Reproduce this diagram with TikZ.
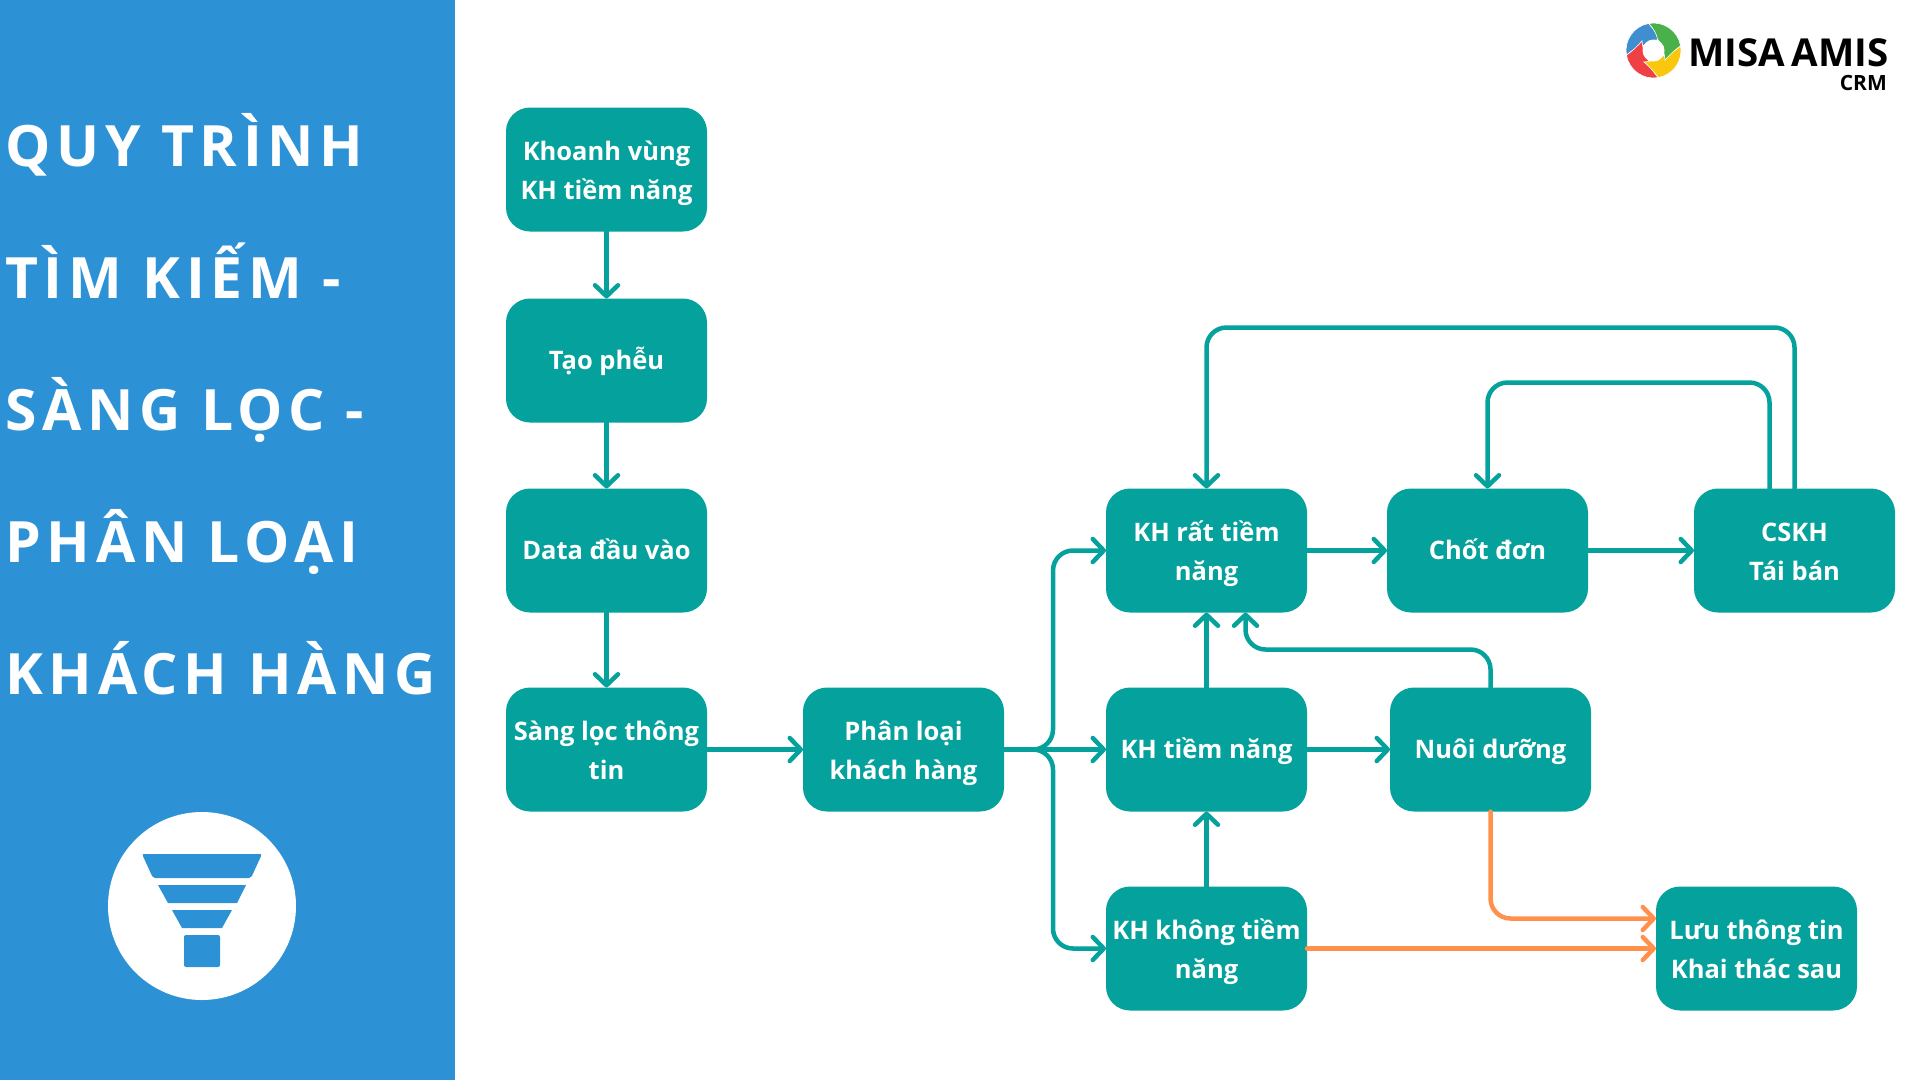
\documentclass[tikz,border=0pt]{standalone}
\usepackage{fontspec}
\setmainfont{Open Sans}
\newfontfamily\titlefont[LetterSpace=10]{Open Sans}
\usetikzlibrary{positioning, arrows.meta}

\definecolor{panelBlue}{HTML}{2D91D6}
\definecolor{boxTeal}{HTML}{05A19C}
\definecolor{lineOrange}{HTML}{FF914D}
\definecolor{logoBlue}{HTML}{3F8FD0}
\definecolor{logoGreen}{HTML}{49B04A}
\definecolor{logoYellow}{HTML}{F9C80E}
\definecolor{logoRed}{HTML}{EF4044}

% Two lines of text, with fixed room above and below
\newcommand{\twoText}[2]{\rule{0pt}{28pt}#1\\#2\rule[-6.2pt]{0pt}{6.2pt}}

\tikzset{
    x=1pt, y=-1pt,
    boxNode/.style={fill=boxTeal, text=white, rounded corners=24pt, minimum width=201pt, minimum height=124pt,
        inner sep=0pt, outer sep=0pt, align=center, font=\fontsize{25.5}{39}\selectfont\bfseries},
    oneLine/.style={boxNode, execute at begin node=\rule[-12pt]{0pt}{42pt}},
    flowArrow/.style={draw=boxTeal, line width=4.5pt, rounded corners=20pt, line cap=round,
        -{Straight Barb[round, length=11pt, width=23pt]}},
    orangeArrow/.style={flowArrow, draw=lineOrange},
    titleLine/.style={anchor=base west, text=white, inner sep=0pt, font=\fontsize{57}{60}\selectfont\titlefont\bfseries},
}

\begin{document}
\begin{tikzpicture}
        \useasboundingbox (0,0) rectangle (1920,1080);

        %%% Left panel
            \fill[panelBlue] (0,0) rectangle (455,1080);
            \node[titleLine] (title1) at (5,166) {QUY TRÌNH};
            \node[titleLine] (title2) at (5,298) {TÌM KIẾM -};
            \node[titleLine] (title3) at (5,430) {SÀNG LỌC -};
            \node[titleLine] (title4) at (5,562) {PHÂN LOẠI};
            \node[titleLine] (title5) at (5,694) {KHÁCH HÀNG};

            % Funnel icon
            \fill[white] (202,906) circle[radius=94];
            \fill[panelBlue, rounded corners=2pt] (142,854) -- (262,854) -- (251,878) -- (153,878) -- cycle;
            \fill[panelBlue] (158,885) -- (246,885) -- (237,903) -- (168,903) -- cycle;
            \fill[panelBlue] (172,910) -- (232,910) -- (222,928) -- (182,928) -- cycle;
            \fill[panelBlue, rounded corners=2pt] (184,935) rectangle (220,967);

        %%% Logo
            \begin{scope}[shift={(1653.5,50.5)}, y=1pt]
                \foreach \petalColor/\petalAngle in {logoBlue/0, logoRed/90, logoYellow/180, logoGreen/270} {
                    \fill[\petalColor, rotate=\petalAngle, draw=white, line width=0.6pt] (190:27.5) arc[start angle=190, end angle=100, radius=27.5]
                        .. controls (88:20) and (72:16) .. (50:15)
                        .. controls (80:11) and (130:11) .. (160:12)
                        .. controls (170:17) and (180:22) .. cycle;
                }
                \fill[white] (0,0) circle[radius=11];
            \end{scope}
            \node[anchor=base east, inner sep=0pt, font=\fontsize{38.5}{40}\selectfont\bfseries] (logoName) at (1889,66) {MISA\hspace{-3pt} AMIS};
            \node[anchor=base east, inner sep=0pt, font=\fontsize{21}{24}\selectfont\bfseries] (logoCrm) at (1887,90) {CRM};

        %%% First column
            \node[boxNode] (khoanhBox) at (606.5,169.5) {\twoText{Khoanh vùng}{KH tiềm năng}};
            \node[oneLine, below=67pt of khoanhBox] (pheuBox) {Tạo phễu};
            \node[oneLine, below=66pt of pheuBox] (dataBox) {Data đầu vào};
            \node[boxNode, below=75pt of dataBox] (sangLocBox) {\twoText{Sàng lọc thông}{tin}};

        %%% Second and third column
            \node[boxNode, right=96pt of sangLocBox] (phanLoaiBox) {\twoText{Phân loại}{khách hàng}};
            \node[oneLine, right=102pt of phanLoaiBox] (tiemNangBox) {KH tiềm năng};
            \node[boxNode, above=75pt of tiemNangBox] (ratTiemBox) {\twoText{KH rất tiềm}{năng}};
            \node[boxNode, below=75pt of tiemNangBox] (khongTiemBox) {\twoText{KH không tiềm}{năng}};

        %%% Right side
            \node[oneLine, right=80pt of ratTiemBox] (chotBox) {Chốt đơn};
            \node[boxNode, right=106pt of chotBox] (cskhBox) {\twoText{CSKH}{Tái bán}};
            \node[oneLine, right=83pt of tiemNangBox] (nuoiBox) {Nuôi dưỡng};
            \node[boxNode, right=349pt of khongTiemBox] (luuBox) {\twoText{Lưu thông tin}{Khai thác sau}};

        %%% Straight arrows
            \draw[flowArrow] (khoanhBox) -- (pheuBox);
            \draw[flowArrow] (pheuBox) -- (dataBox);
            \draw[flowArrow] (dataBox) -- (sangLocBox);
            \draw[flowArrow] (sangLocBox) -- (phanLoaiBox);
            \draw[flowArrow] (phanLoaiBox) -- (tiemNangBox);
            \draw[flowArrow] (tiemNangBox) -- (ratTiemBox);
            \draw[flowArrow] (khongTiemBox) -- (tiemNangBox);
            \draw[flowArrow] (tiemNangBox) -- (nuoiBox);
            \draw[flowArrow] (ratTiemBox) -- (chotBox);
            \draw[flowArrow] (chotBox.east) -- (cskhBox.west);

        %%% Branches out of the second column
            \draw[flowArrow] (phanLoaiBox.east) -- ++(49,0) |- (ratTiemBox.west);
            \draw[flowArrow] (phanLoaiBox.east) -- ++(49,0) |- (khongTiemBox.west);

        %%% Loops back
            \draw[flowArrow] (cskhBox.north) -- ++(0,-161) -| (ratTiemBox.north);
            \draw[flowArrow] ([xshift=-25pt]cskhBox.north) -- ++(0,-106) -| (chotBox.north);
            \draw[flowArrow] (nuoiBox.north) -- ++(0,-38) -| ([xshift=39pt]ratTiemBox.south);

        %%% Orange arrows
            \draw[orangeArrow] (nuoiBox.south) |- ([yshift=30pt]luuBox.west);
            \draw[orangeArrow] (khongTiemBox.east) -- (luuBox.west);
        \end{tikzpicture}
\end{document}
